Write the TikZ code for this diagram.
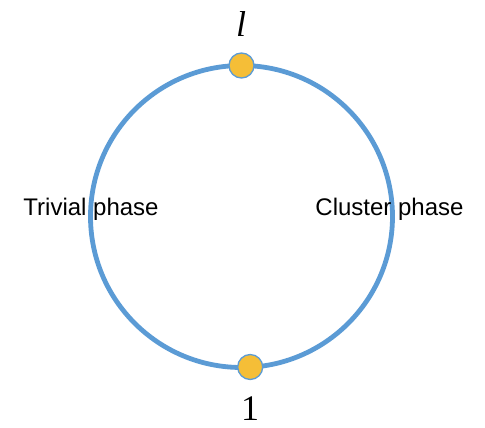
\documentclass[tikz,border=0pt]{standalone}
\usepackage{fontspec}
\setmainfont{Liberation Serif}
\setsansfont{Liberation Sans}
\definecolor{ringblue}{RGB}{91,155,213}
\definecolor{dotgold}{RGB}{245,190,55}
\tikzset{
  ring/.style={draw=ringblue, line width=4.8pt},
  dot/.style={circle, fill=dotgold, draw=ringblue, line width=1.3pt, minimum size=25pt, inner sep=0pt},
  phaselabel/.style={anchor=base, inner sep=0pt, font=\sffamily\fontsize{24}{24}\selectfont},
  pointlabel/.style={anchor=base, inner sep=0pt, font=\fontsize{36}{36}\selectfont}
}
\begin{document}
\begin{tikzpicture}[x=1pt,y=-1pt]
\useasboundingbox (0,0) rectangle (485,428);
\coordinate (c) at (241.5,216.5);
\draw[ring] (c) circle[radius=151];
\node[phaselabel] (trivial) at (91,215) {Trivial phase};
\node[phaselabel] (cluster) at (389.5,215) {Cluster phase};
\node[dot] (top) at (241.5,65.5) {};
\node[dot] (bottom) at (250.2,367) {};
\node[pointlabel] (ltop) at (241,37) {\itshape l};
\node[pointlabel] (lbot) at (250,420) {1};
\end{tikzpicture}
\end{document}
